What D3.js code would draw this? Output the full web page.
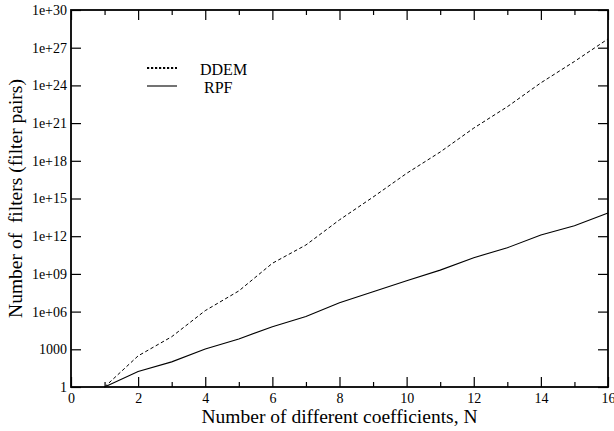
<!DOCTYPE html>
<html><head><meta charset="utf-8">
<script src="https://cdn.jsdelivr.net/npm/d3@7"></script>
<style>body{margin:0;background:#fff}svg{display:block}</style>
</head><body><svg id="c" width="614" height="431"></svg>
<script>
const N = [1,2,3,4,5,6,7,8,9,10,11,12,13,14,15,16];
const ddem = [1, 300, 1e4, 1.2e6, 4.4e7, 7e9, 2e11, 2e13, 1.3e15, 1e17, 5e18, 4e20, 2e22, 1.6e24, 8e25, 5e27];
const rpf = [1, 17, 100, 1050, 6.6e3, 6.3e4, 4e5, 5e6, 3.8e7, 2.9e8, 2e9, 1.95e10, 1.2e11, 1.26e12, 6.9e12, 7e13];
const yTicks = [1, 1e3, 1e6, 1e9, 1e12, 1e15, 1e18, 1e21, 1e24, 1e27, 1e30];
const yTickLabels = ["1","1000","1e+06","1e+09","1e+12","1e+15","1e+18","1e+21","1e+24","1e+27","1e+30"];
const xMajor = [0,2,4,6,8,10,12,14,16];
const xMinor = [1,3,5,7,9,11,13,15];

(function(){
const FONT = "'Liberation Serif', 'Times New Roman', Times, serif";
const L=71, R=608, T=10, B=387;
const svg = d3.select("#c");
const x = d3.scaleLinear().domain([0,16]).range([L,R]);
const y = d3.scaleLog().domain([1,1e30]).range([B,T]);

const gBottom = svg.append("g").attr("transform",`translate(0,${B})`);
gBottom.call(d3.axisBottom(x).tickValues(xMajor).tickSize(-10).tickFormat(d3.format("d")));
gBottom.append("g").call(d3.axisBottom(x).tickValues(xMinor).tickSize(-5).tickFormat(""));
const gTop = svg.append("g").attr("transform",`translate(0,${T})`);
gTop.call(d3.axisTop(x).tickValues(xMajor).tickSize(-10).tickFormat(""));
gTop.append("g").call(d3.axisTop(x).tickValues(xMinor).tickSize(-5).tickFormat(""));
const gLeft = svg.append("g").attr("transform",`translate(${L},0)`);
gLeft.call(d3.axisLeft(y).tickValues(yTicks).tickSize(-10).tickFormat((d,i)=>yTickLabels[i]));
const gRight = svg.append("g").attr("transform",`translate(${R},0)`);
gRight.call(d3.axisRight(y).tickValues(yTicks).tickSize(-10).tickFormat(""));

svg.selectAll("g").attr("font-family", FONT);
svg.selectAll(".domain").remove();
svg.selectAll(".tick line").attr("stroke","#000").attr("stroke-width",1.2);
svg.selectAll(".tick text").attr("font-family", FONT).attr("font-size", 14).attr("fill","#000");
gBottom.selectAll(".tick text").attr("y", 16).attr("dy", "0");
gLeft.selectAll(".tick text").attr("x", -4).attr("dy", "0.32em");

svg.append("rect").attr("x",L).attr("y",T).attr("width",R-L).attr("height",B-T)
  .attr("fill","none").attr("stroke","#000").attr("stroke-width",1.8);

const line = d3.line().x((d,i)=>x(N[i])).y(d=>y(d));
svg.append("path").attr("d",line(ddem)).attr("fill","none").attr("stroke","#000")
  .attr("stroke-width",1).attr("stroke-dasharray","3.5,2.5");
svg.append("path").attr("d",line(rpf)).attr("fill","none").attr("stroke","#000")
  .attr("stroke-width",1.1);

svg.append("line").attr("x1",147).attr("x2",177).attr("y1",68).attr("y2",68)
  .attr("stroke","#000").attr("stroke-width",2.2).attr("stroke-dasharray","2.2,1.8");
svg.append("text").attr("x",200).attr("y",74.5).attr("font-family",FONT).attr("font-size",16).text("DDEM");
svg.append("line").attr("x1",147).attr("x2",177).attr("y1",86).attr("y2",86)
  .attr("stroke","#000").attr("stroke-width",1.1);
svg.append("text").attr("x",204).attr("y",93).attr("font-family",FONT).attr("font-size",16).text("RPF");

svg.append("text").attr("x",(L+R)/2).attr("y",423).attr("text-anchor","middle")
  .attr("font-family",FONT).attr("font-size",19.5).text("Number of different coefficients, N");
svg.append("text").attr("transform",`translate(22,${(T+B)/2}) rotate(-90)`).attr("text-anchor","middle")
  .attr("font-family",FONT).attr("font-size",19.5).style("white-space","pre").text("Number of  filters (filter pairs)");
})();
</script></body></html>
